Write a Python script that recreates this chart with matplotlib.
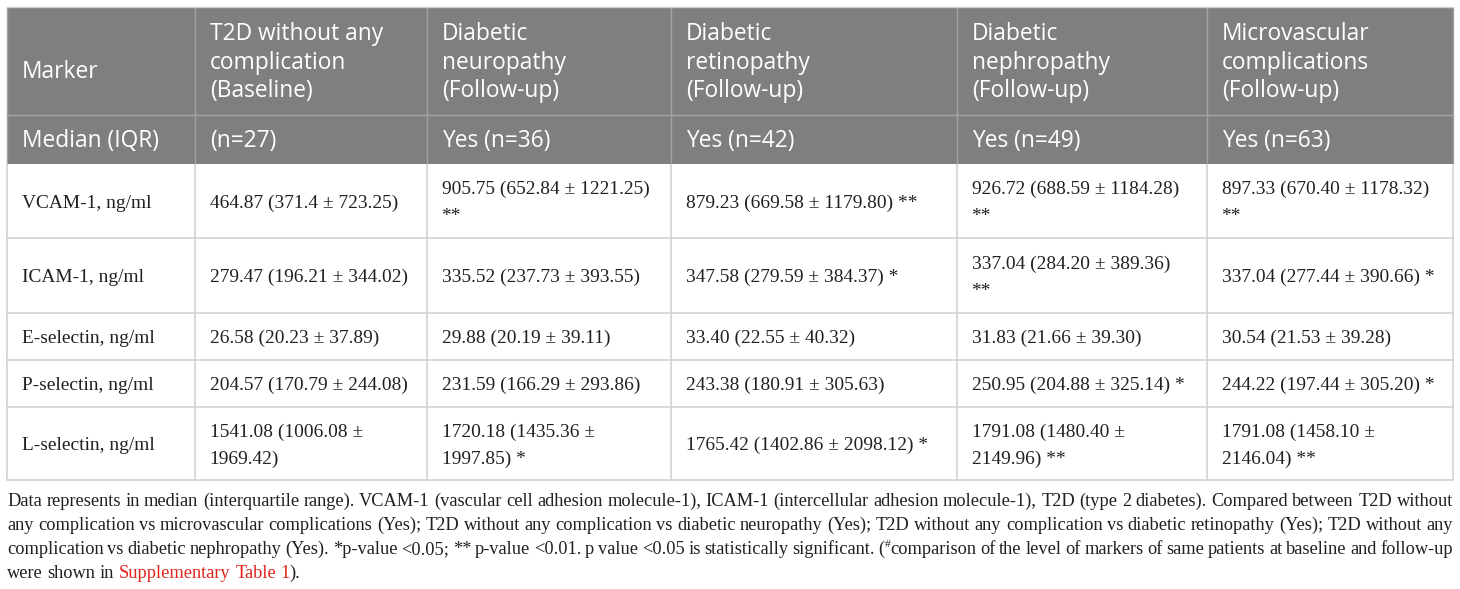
import matplotlib
matplotlib.use("Agg")
import matplotlib.pyplot as plt
from matplotlib.patches import Rectangle

# ---------------- data ----------------
header_top = ["Marker",
              "T2D without any\ncomplication\n(Baseline)",
              "Diabetic\nneuropathy\n(Follow-up)",
              "Diabetic\nretinopathy\n(Follow-up)",
              "Diabetic\nnephropathy\n(Follow-up)",
              "Microvascular\ncomplications\n(Follow-up)"]
header_sub = ["Median (IQR)", "(n=27)", "Yes (n=36)", "Yes (n=42)", "Yes (n=49)", "Yes (n=63)"]
markers = ["VCAM-1, ng/ml", "ICAM-1, ng/ml", "E-selectin, ng/ml", "P-selectin, ng/ml", "L-selectin, ng/ml"]
baseline = ["464.87 (371.4 ± 723.25)", "279.47 (196.21 ± 344.02)", "26.58 (20.23 ± 37.89)",
            "204.57 (170.79 ± 244.08)", "1541.08 (1006.08 ±\n1969.42)"]
neuropathy = ["905.75 (652.84 ± 1221.25)\n**", "335.52 (237.73 ± 393.55)", "29.88 (20.19 ± 39.11)",
              "231.59 (166.29 ± 293.86)", "1720.18 (1435.36 ±\n1997.85) *"]
retinopathy = ["879.23 (669.58 ± 1179.80) **", "347.58 (279.59 ± 384.37) *", "33.40 (22.55 ± 40.32)",
               "243.38 (180.91 ± 305.63)", "1765.42 (1402.86 ± 2098.12) *"]
nephropathy = ["926.72 (688.59 ± 1184.28)\n**", "337.04 (284.20 ± 389.36)\n**", "31.83 (21.66 ± 39.30)",
               "250.95 (204.88 ± 325.14) *", "1791.08 (1480.40 ±\n2149.96) **"]
microvascular = ["897.33 (670.40 ± 1178.32)\n**", "337.04 (277.44 ± 390.66) *", "30.54 (21.53 ± 39.28)",
                 "244.22 (197.44 ± 305.20) *", "1791.08 (1458.10 ±\n2146.04) **"]

# footnote lines: ^x^ marks superscript, ~x~ marks the red link text
footnote_text = [
    "Data represents in median (interquartile range). VCAM-1 (vascular cell adhesion molecule-1), ICAM-1 "
    "(intercellular adhesion molecule-1), T2D (type 2 diabetes). Compared between T2D without",
    "any complication vs microvascular complications (Yes); T2D without any complication vs diabetic "
    "neuropathy (Yes); T2D without any complication vs diabetic retinopathy (Yes); T2D without any",
    "complication vs diabetic nephropathy (Yes). *p-value <0.05; ** p-value <0.01. p value <0.05 is "
    "statistically significant. (^#^comparison of the level of markers of same patients at baseline and follow-up",
    "were shown in ~Supplementary~ ~Table~ ~1~).",
]

# ---------------- layout ----------------
W, H = 1460, 589
col_edges = [7, 195, 427, 671, 957, 1207, 1453]
row_edges = [7, 115, 164, 238, 313, 360, 407, 480]
foot_centers = [500, 524, 548, 572]

HEAD_BG = "#7f7f7f"
HEAD_LINE = "#a3a3a3"
GRID = "#cfcfcf"
TXT = "#231f20"
LINK = "#e2231a"
SANS = "Open Sans"
SERIF = "Liberation Serif"

fig = plt.figure(figsize=(W / 100, H / 100), dpi=100)
ax = fig.add_axes([0, 0, 1, 1])
ax.set_xlim(0, W)
ax.set_ylim(H, 0)
ax.axis("off")
renderer = fig.canvas.get_renderer()
px = 100 / 72.0


def width_px(s, family, size):
    t = ax.text(0, 0, s, family=family, fontsize=size)
    w = t.get_window_extent(renderer).width
    t.remove()
    return w


def fit(s, family, target):
    return 10 * target / width_px(s, family, 10)


def parse_word(w):
    """split a word into pieces: ^x^ superscript, ~x~ link."""
    pieces = []
    buf = ""
    mode = "text"
    for ch in w:
        if ch in "^~":
            if buf:
                pieces.append((buf, mode))
            buf = ""
            marker = "sup" if ch == "^" else "link"
            mode = "text" if mode == marker else marker
        else:
            buf += ch
    if buf:
        pieces.append((buf, mode))
    return pieces


head_size = fit("Median (IQR)", SANS, 137)
body_size = fit("464.87 (371.4 ± 723.25)", SERIF, 188)
foot_target = col_edges[-1] - col_edges[0]
plain = [ln.replace("^", "").replace("~", "") for ln in footnote_text]
foot_size = fit(plain[0], SERIF, foot_target - 4)


def draw_lines(x, center, text, family, size, color, spacing):
    lines = text.split("\n")
    n = len(lines)
    for i, ln in enumerate(lines):
        yc = center + (i - (n - 1) / 2) * spacing
        ax.text(x, yc + 0.35 * size * px, ln, family=family, fontsize=size, color=color,
                ha="left", va="baseline")


# header background
ax.add_patch(Rectangle((col_edges[0], row_edges[0]), col_edges[-1] - col_edges[0],
                       row_edges[2] - row_edges[0], facecolor=HEAD_BG, edgecolor="none"))

# header text
for j, s in enumerate(header_top):
    c = (row_edges[0] + row_edges[1]) / 2
    if "\n" not in s:
        c += 9
    draw_lines(col_edges[j] + 15, c, s, SANS, head_size, "white", 28.5)
for j, s in enumerate(header_sub):
    draw_lines(col_edges[j] + 15, (row_edges[1] + row_edges[2]) / 2, s, SANS, head_size, "white", 28.5)

# body text
body_cols = [markers, baseline, neuropathy, retinopathy, nephropathy, microvascular]
for j, col in enumerate(body_cols):
    for i, s in enumerate(col):
        r0, r1 = row_edges[i + 2], row_edges[i + 3]
        draw_lines(col_edges[j] + 14.5, (r0 + r1) / 2, s, SERIF, body_size, TXT, 27)

# grid lines
for x in col_edges:
    ax.plot([x, x], [row_edges[0], row_edges[2]], color=HEAD_LINE, lw=1.0, solid_capstyle="butt")
    ax.plot([x, x], [row_edges[2], row_edges[-1]], color=GRID, lw=1.1, solid_capstyle="butt")
ax.plot([col_edges[0], col_edges[-1]], [row_edges[0], row_edges[0]], color=GRID, lw=1.0)
ax.plot([col_edges[0], col_edges[-1]], [row_edges[1], row_edges[1]], color=HEAD_LINE, lw=1.0)
for y in row_edges[3:]:
    ax.plot([col_edges[0], col_edges[-1]], [y, y], color=GRID, lw=1.1)

# footnote (justified except last line)
space_w = width_px("a b", SERIF, foot_size) - width_px("ab", SERIF, foot_size)


def piece_width(s, kind):
    size = foot_size * 0.62 if kind == "sup" else foot_size
    return width_px(s, SERIF, size)


for li, (line, yc) in enumerate(zip(footnote_text, foot_centers)):
    words = [parse_word(w) for w in line.split(" ")]
    widths = [sum(piece_width(s, k) for s, k in wd) for wd in words]
    if li < len(footnote_text) - 1 and len(words) > 1:
        gap = (foot_target - sum(widths)) / (len(words) - 1)
    else:
        gap = space_w
    x = col_edges[0]
    base = yc + 0.33 * foot_size * px
    for wd, ww in zip(words, widths):
        xx = x
        for s, kind in wd:
            if kind == "sup":
                ax.text(xx, base - 0.38 * foot_size * px, s, family=SERIF, fontsize=foot_size * 0.62,
                        color=TXT, ha="left", va="baseline")
            else:
                ax.text(xx, base, s, family=SERIF, fontsize=foot_size,
                        color=LINK if kind == "link" else TXT, ha="left", va="baseline")
            xx += piece_width(s, kind)
        x += ww + gap

fig.savefig("out.png", dpi=100)
